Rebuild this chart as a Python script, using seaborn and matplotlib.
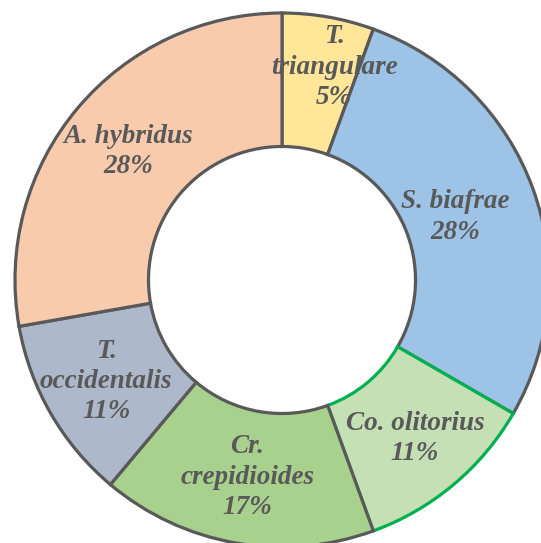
import numpy as np
import matplotlib
matplotlib.use("Agg")
import matplotlib.pyplot as plt
import seaborn as sns

# === Data (counts per species, shares of 18) ===
species = ["T.\ntriangulare", "S. biafrae", "Co. olitorius",
           "Cr.\ncrepidioides", "T.\noccidentalis", "A. hybridus"]
counts = [1, 5, 2, 3, 2, 5]
pct_labels = ["5%", "28%", "11%", "17%", "11%", "28%"]
colors = ["#FFE699", "#9DC3E6", "#C5E0B4", "#A9D18E", "#ADB9CA", "#F8CBAD"]
edge_colors = ["#595959", "#595959", "#00B050", "#595959", "#595959", "#595959"]

# label layout (radius as fraction of outer radius, small x nudge)
label_radius = [0.81, 0.69, 0.775, 0.75, 0.76, 0.75]
label_nudge_x = [0.055, 0, 0, 0, 0, 0]

sns.set_theme(style="white")
plt.rcParams["font.family"] = ["Liberation Serif", "DejaVu Serif"]

# === Figure ===
fig = plt.figure(figsize=(5.41, 5.43), dpi=100)
ax = fig.add_axes([0, 0, 1, 1])
palette = sns.color_palette(colors)

wedges, _ = ax.pie(counts, colors=palette, startangle=90, counterclock=False,
                   radius=1.0,
                   wedgeprops=dict(width=0.5, linewidth=2.3, edgecolor="#595959"))
for w, ec in zip(wedges, edge_colors):
    w.set_edgecolor(ec)

# === Labels ===
total = sum(counts)
start = 90.0
for name, c, pct, r, nx in zip(species, counts, pct_labels, label_radius, label_nudge_x):
    sweep = 360.0 * c / total
    mid = np.deg2rad(start - sweep / 2)
    start -= sweep
    ax.text(r * np.cos(mid) + nx, r * np.sin(mid), f"{name}\n{pct}",
            ha="center", va="center", fontsize=19.5, fontweight="bold",
            fontstyle="italic", color="#595959", linespacing=1.28)

# === Place the donut as in the reference (partly clipped) ===
scale = 267.0
cx, cy = 282.0, 280.0
ax.set_xlim(-cx / scale, (541 - cx) / scale)
ax.set_ylim(-(543 - cy) / scale, cy / scale)
ax.set_aspect("auto")
ax.axis("off")

plt.savefig("out.png", dpi=100)
plt.close()
